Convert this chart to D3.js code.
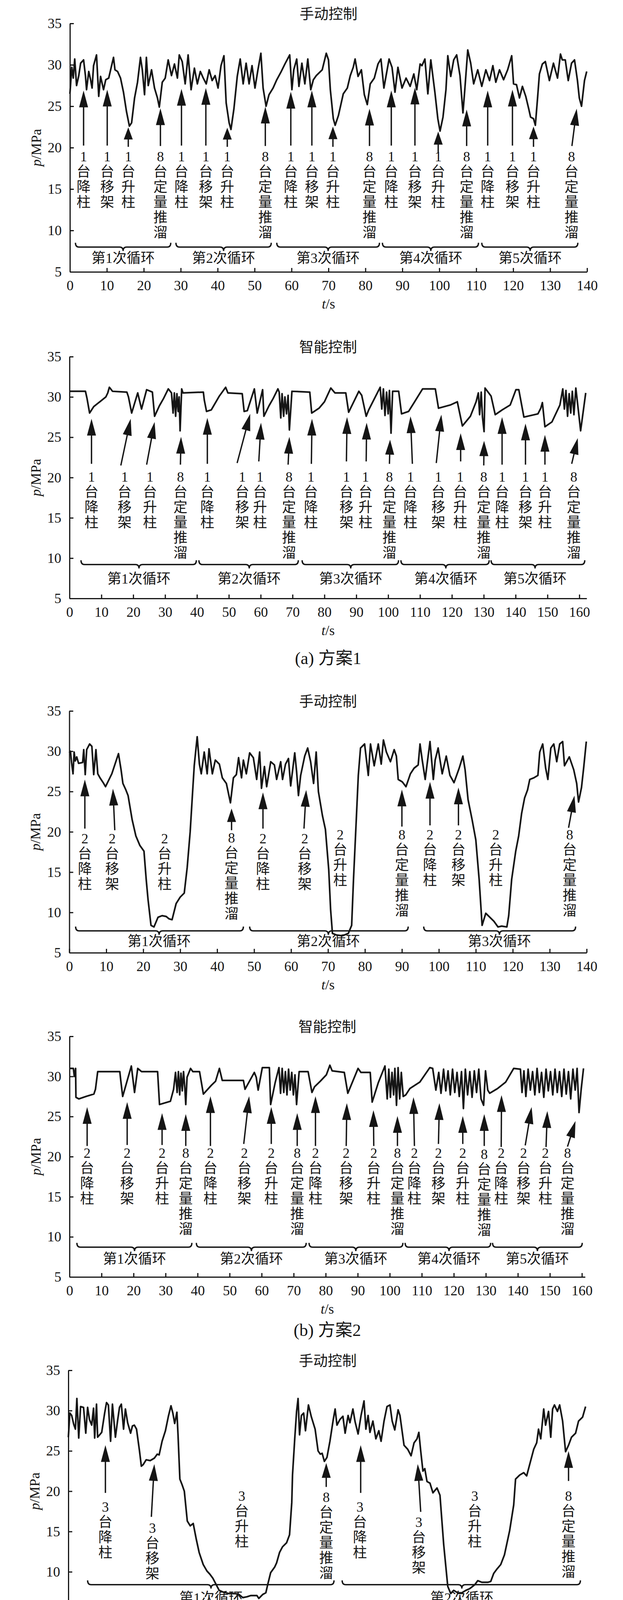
<!DOCTYPE html>
<html>
<head>
<meta charset="utf-8">
<script src="https://cdn.jsdelivr.net/npm/d3@7"></script>
<style>
body { margin: 0; background: #fff; }
text { font-family: 'Liberation Serif', 'Times New Roman', 'Noto Sans CJK SC', serif; fill: #151515; }
</style>
</head>
<body>
<div id="main"></div>
<script>
// ---------- data: [t (s), p (MPa)] ----------
const scheme1Manual = [[0,26.5],[0.5,29.7],[0.9,28.4],[1.3,30.7],[1.8,27.5],[2.4,28.7],[2.9,30.2],[3.7,30.6],[4.2,28.7],[4.5,27.0],[5.1,29.2],[5.6,28.2],[6.0,27.2],[6.4,29.9],[7.2,31.2],[7.8,26.2],[8.3,28.6],[9.1,27.0],[9.7,28.2],[10.5,28.4],[11.8,30.9],[12.2,29.4],[12.9,29.2],[13.7,28.4],[14.5,26.7],[15.3,24.4],[16.1,22.6],[16.7,23.0],[17.5,26.0],[18.3,27.9],[19.1,30.9],[19.6,29.4],[20.2,26.4],[20.7,30.9],[21.2,27.5],[22.1,29.4],[22.9,27.2],[23.7,26.0],[24.2,24.9],[25.0,27.9],[25.8,28.4],[26.6,30.6],[27.5,28.7],[28.3,30.1],[29.1,28.4],[29.6,31.2],[30.4,30.4],[31.2,27.7],[32.0,31.2],[32.8,27.0],[33.7,29.6],[34.5,27.7],[35.3,29.2],[36.1,28.4],[36.9,27.7],[37.7,29.4],[38.5,28.1],[39.3,28.7],[40.1,27.2],[40.9,29.9],[41.7,31.1],[42.3,25.4],[43.1,23.0],[43.6,22.2],[44.4,24.7],[45.3,28.6],[46.1,30.7],[46.9,27.7],[47.7,30.2],[48.5,27.7],[49.3,29.9],[50.1,27.2],[50.9,29.4],[51.7,31.4],[52.3,27.2],[53.1,25.0],[53.9,26.4],[55.0,27.2],[56.0,28.2],[57.1,29.1],[58.2,30.1],[59.5,31.2],[60.1,27.0],[60.6,29.4],[61.4,30.7],[62.0,27.4],[62.8,30.2],[63.6,27.7],[64.4,30.7],[65.2,27.0],[65.9,28.2],[66.7,28.7],[68.3,29.4],[69.4,31.4],[70.0,30.6],[70.5,27.0],[71.3,23.5],[71.8,22.7],[72.7,23.9],[74.0,26.5],[75.1,27.2],[75.9,28.7],[76.7,29.7],[77.2,30.7],[78.0,28.6],[78.9,29.4],[79.7,26.4],[80.5,25.2],[81.3,27.7],[82.4,28.4],[83.4,30.1],[84.2,30.7],[85.0,27.2],[86.4,30.7],[87.2,29.7],[88.0,26.7],[88.8,29.7],[89.9,27.2],[91.0,28.4],[92.1,27.4],[93.1,28.9],[93.9,27.0],[94.8,30.1],[95.3,29.9],[96.1,30.7],[96.9,26.5],[97.7,30.6],[98.8,26.7],[99.6,23.5],[100.2,22.0],[101.0,23.7],[101.8,27.0],[102.3,31.1],[103.1,28.6],[103.9,30.6],[104.7,31.2],[105.6,28.7],[106.4,24.2],[106.9,27.0],[107.7,31.8],[108.5,30.2],[109.3,27.7],[110.4,29.4],[111.5,27.4],[112.6,29.4],[113.6,28.1],[114.5,29.9],[115.3,27.9],[116.3,29.4],[117.4,28.2],[118.5,29.4],[119.6,31.1],[120.1,27.7],[120.9,27.6],[121.7,26.0],[122.5,27.4],[123.4,26.2],[124.2,24.7],[124.7,23.7],[125.5,23.5],[126.0,22.7],[126.6,26.0],[127.1,28.9],[127.9,30.1],[128.7,30.4],[129.8,28.1],[130.9,30.2],[132.0,28.4],[132.8,31.3],[133.3,30.6],[134.1,30.6],[134.9,28.1],[135.8,30.2],[136.6,30.6],[137.4,28.1],[137.9,26.0],[138.5,25.0],[139.3,28.1],[139.9,29.2]];

const scheme1Smart = [[0,30.7],[5.0,30.7],[5.5,29.8],[6.3,28.0],[7.6,28.8],[9.5,29.4],[11.4,30.0],[12.0,30.5],[12.5,31.2],[13.5,30.7],[18.0,30.6],[18.5,30.0],[19.5,28.0],[21.4,30.5],[22.6,28.5],[24.2,30.9],[26.0,30.6],[26.7,27.6],[28.2,28.9],[29.5,29.8],[31.0,31.0],[32.0,30.5],[32.5,28.0],[32.9,30.5],[33.3,27.6],[33.7,30.4],[34.1,28.2],[34.4,30.0],[34.7,25.8],[35.2,31.0],[35.6,30.5],[42.0,30.6],[42.3,29.6],[43.0,28.2],[44.5,28.4],[47.0,30.1],[49.0,31.2],[49.7,30.5],[54.2,30.4],[54.8,28.2],[55.8,28.3],[58.0,31.0],[58.9,28.0],[60.6,30.9],[61.0,27.6],[62.6,28.9],[63.9,29.8],[65.4,31.0],[65.8,30.6],[66.3,27.4],[66.7,30.4],[67.2,27.6],[67.6,30.0],[68.1,27.9],[68.6,30.2],[69.0,25.9],[69.8,30.7],[75.4,30.6],[76.0,28.0],[78.3,28.6],[80.0,29.4],[82.0,31.1],[83.3,30.5],[86.7,30.5],[87.6,28.1],[90.8,30.7],[91.7,30.2],[93.1,27.6],[93.9,28.4],[97.5,31.2],[98.0,28.5],[98.5,31.0],[99.0,27.7],[99.5,30.6],[100.0,27.9],[100.4,30.8],[100.9,25.5],[101.4,30.7],[103.3,30.7],[104.2,27.9],[106.4,28.2],[108.3,29.4],[110.8,31.0],[114.8,31.0],[115.8,28.6],[119.5,29.0],[121.7,29.4],[123.3,26.4],[125.8,27.6],[127.6,29.4],[128.3,30.5],[128.7,27.8],[129.2,30.6],[129.6,27.5],[130.1,25.7],[130.4,31.1],[132.3,30.1],[133.6,27.8],[135.8,28.4],[138.3,29.0],[140.1,30.9],[141.0,30.9],[142.6,27.5],[147.0,27.9],[147.9,28.6],[148.4,29.3],[149.2,26.3],[151.4,26.9],[153.9,29.0],[154.8,31.0],[155.3,28.5],[155.8,30.8],[156.3,27.6],[156.8,30.4],[157.3,28.0],[157.8,30.7],[158.3,27.8],[158.9,31.1],[159.5,29.0],[160.4,25.8],[162.0,30.5]];

const scheme2Manual = [[0,29.8],[0.3,30.0],[0.6,28.6],[1.0,27.2],[1.3,29.9],[1.6,28.8],[2.0,29.3],[2.5,28.5],[3.6,28.6],[3.9,30.2],[4.3,27.1],[4.7,30.2],[5.5,30.9],[6.1,30.6],[6.6,27.1],[7.2,30.2],[7.7,27.2],[8.3,26.7],[9.3,26.0],[9.8,25.6],[11.5,27.2],[13.3,29.7],[14.0,27.7],[14.5,26.0],[15.3,25.2],[15.9,24.5],[17.0,21.5],[18.0,19.5],[19.1,18.3],[20.2,17.6],[20.8,14.1],[21.3,11.6],[22.1,8.4],[22.9,8.2],[24.0,9.4],[25.1,9.6],[26.2,9.5],[27.0,9.2],[27.8,9.1],[28.9,11.1],[30.0,11.9],[31.1,12.4],[31.9,15.6],[32.7,20.0],[33.3,24.5],[33.8,28.2],[34.6,31.8],[35.2,28.4],[35.7,27.2],[36.5,29.9],[37.3,27.2],[37.8,30.3],[38.7,27.2],[39.5,28.9],[40.6,28.4],[41.4,26.7],[42.5,26.0],[43.6,23.6],[44.4,26.7],[45.2,27.1],[45.8,29.2],[46.6,26.7],[47.1,28.9],[47.9,27.2],[48.8,29.8],[49.8,29.2],[50.7,26.5],[51.5,29.9],[52.0,25.4],[52.8,28.1],[53.4,25.6],[54.5,28.7],[55.5,28.3],[56.1,26.5],[57.2,28.7],[57.7,26.5],[58.5,28.4],[59.3,29.1],[59.9,25.7],[61.0,29.8],[61.5,27.5],[62.0,24.5],[62.6,27.0],[63.7,29.4],[64.5,30.4],[65.3,28.7],[66.1,26.0],[66.8,29.9],[67.4,25.0],[68.5,22.0],[69.3,20.3],[70.2,15.3],[70.7,10.4],[71.2,7.4],[72.3,7.2],[73.9,7.1],[75.5,7.4],[76.4,8.4],[76.9,14.1],[77.7,22.0],[78.2,27.0],[78.8,30.4],[79.9,30.9],[80.9,27.0],[81.5,30.9],[82.5,28.2],[83.6,30.9],[84.4,28.4],[85.0,31.4],[85.8,29.9],[86.9,28.7],[87.9,30.2],[88.5,29.4],[89.0,26.5],[90.1,26.2],[91.1,25.6],[92.3,27.2],[93.3,27.9],[94.4,28.3],[94.9,30.9],[95.5,28.9],[96.3,26.5],[97.1,29.4],[97.6,31.2],[98.5,26.5],[99.0,28.9],[99.8,30.4],[100.9,27.2],[102.0,29.4],[103.0,27.0],[104.1,26.1],[105.5,27.9],[106.5,29.4],[107.1,27.7],[107.9,24.0],[109.0,21.5],[110.0,19.0],[110.9,14.1],[111.7,8.4],[112.7,9.9],[113.8,9.4],[114.9,8.9],[116.0,8.2],[117.0,8.3],[118.4,8.2],[118.9,9.6],[119.7,14.1],[120.8,17.6],[121.6,19.5],[122.4,22.3],[123.2,24.2],[124.0,25.2],[124.6,26.5],[125.7,26.7],[126.8,27.0],[127.3,29.9],[128.1,30.9],[128.9,27.9],[129.5,26.5],[130.3,30.4],[131.1,30.9],[131.9,28.7],[132.7,30.9],[133.5,31.2],[134.0,28.2],[135.3,29.3],[136.5,27.7],[137.3,26.0],[137.8,23.7],[138.6,25.5],[139.2,28.0],[139.9,31.2]];

const scheme2Smart = [[0,31.0],[1.2,31.0],[1.5,30.0],[1.9,31.0],[2.0,27.4],[2.9,27.2],[5.1,27.5],[7.6,27.8],[8.1,28.4],[8.8,30.6],[15.7,30.6],[16.0,29.5],[16.6,27.5],[19.3,31.3],[20.3,28.0],[21.3,31.0],[22.5,30.6],[27.5,30.6],[28.1,26.5],[31.5,26.9],[32.5,28.4],[33.1,30.5],[33.6,28.0],[34.0,30.6],[34.4,27.7],[34.8,30.4],[35.2,28.2],[35.6,30.6],[36.0,28.6],[36.3,26.5],[36.7,29.9],[37.8,31.0],[38.5,30.6],[40.6,30.6],[41.8,27.8],[44.3,28.9],[45.6,29.4],[46.8,31.0],[47.7,29.5],[54.3,29.5],[54.8,28.4],[57.7,30.5],[58.3,29.9],[58.9,28.3],[60.2,31.1],[62.4,31.1],[62.8,26.5],[64.2,29.2],[65.4,31.1],[65.9,27.9],[66.4,31.0],[66.9,28.0],[67.4,30.6],[67.9,27.7],[68.4,30.9],[68.9,28.3],[69.4,30.5],[69.9,27.7],[70.4,30.2],[70.9,26.5],[71.7,30.6],[74.5,30.6],[75.7,28.0],[76.5,28.7],[78.3,29.4],[80.2,30.2],[81.3,31.4],[82.0,30.7],[85.8,30.5],[86.9,27.9],[90.1,31.0],[91.0,30.5],[93.9,30.5],[94.5,26.8],[96.4,29.2],[98.5,31.3],[99.2,27.2],[99.7,30.9],[100.2,27.4],[100.7,30.5],[101.2,27.7],[101.6,31.0],[102.1,26.4],[102.6,31.1],[103.1,27.2],[103.6,30.5],[104.2,27.5],[105.0,27.7],[106.3,28.5],[109.4,29.3],[112.5,31.1],[113.4,31.0],[114.4,28.3],[115.3,30.5],[116.0,27.9],[116.8,30.9],[117.5,28.2],[118.2,30.7],[118.9,27.7],[119.6,30.9],[120.3,28.0],[121.0,30.5],[121.7,27.5],[122.4,30.6],[123.0,26.0],[123.6,30.9],[124.3,27.7],[125.0,30.6],[125.7,27.4],[126.4,30.7],[127.1,28.0],[127.8,30.9],[128.5,27.2],[129.3,26.4],[129.9,30.7],[130.6,28.3],[131.2,27.9],[133.7,28.5],[136.2,29.3],[138.7,31.0],[140.8,30.9],[141.3,28.0],[141.9,30.7],[142.5,27.5],[143.2,30.9],[143.9,28.3],[144.6,30.6],[145.3,27.7],[146.0,31.0],[146.7,28.0],[147.4,30.5],[148.1,27.4],[148.8,30.9],[149.5,28.2],[150.2,30.6],[150.9,27.7],[151.6,30.9],[152.3,28.0],[153.0,30.6],[153.7,27.5],[154.4,30.9],[155.1,27.8],[155.8,30.6],[156.5,27.2],[157.2,30.9],[157.9,28.3],[158.5,31.0],[159.1,25.5],[159.8,28.5],[160.5,31.0]];

const scheme3Manual = [[0,26.7],[0.4,29.7],[0.9,29.4],[1.45,28.3],[1.9,27.7],[2.3,31.5],[2.8,26.6],[3.3,30.5],[4.1,30.4],[4.7,27.2],[5.2,30.4],[5.7,28.9],[6.3,28.2],[6.8,30.3],[7.1,26.6],[7.6,30.8],[7.9,26.7],[9.0,27.3],[9.8,29.7],[10.3,31.0],[10.8,30.7],[11.4,26.2],[11.9,30.8],[12.7,26.7],[13.3,28.8],[13.8,30.4],[14.3,30.8],[14.9,27.7],[15.4,30.2],[16.0,28.5],[16.8,27.2],[17.3,28.1],[17.8,28.2],[18.4,27.7],[19.2,25.0],[19.7,23.1],[20.2,23.3],[21.0,23.9],[22.1,23.8],[23.2,24.1],[24.0,24.6],[24.5,24.5],[25.3,26.2],[26.2,27.5],[27.0,29.3],[27.7,30.6],[28.2,29.7],[28.7,28.4],[29.3,29.8],[29.6,27.0],[30.1,21.5],[30.7,20.8],[31.3,20.0],[32.1,16.3],[32.9,15.7],[33.7,16.0],[34.5,14.1],[35.3,12.4],[36.4,10.9],[37.4,10.1],[38.2,9.7],[39.0,9.2],[39.8,8.5],[40.7,7.7],[41.7,7.5],[43.3,7.3],[45.0,7.3],[46.0,7.2],[47.1,6.8],[48.2,6.9],[49.2,7.05],[50.9,7.05],[51.4,6.7],[52.5,7.2],[53.3,7.4],[53.8,8.4],[54.6,9.9],[55.7,10.6],[56.2,11.1],[57.0,12.4],[57.8,13.1],[58.9,13.6],[59.7,14.6],[60.3,18.6],[60.5,22.0],[61.1,26.5],[61.6,29.9],[62.0,31.5],[62.4,27.0],[62.9,29.4],[63.5,29.7],[64.0,27.5],[64.8,30.7],[65.6,29.2],[66.6,27.7],[67.4,25.0],[68.0,24.6],[68.5,24.7],[69.1,23.7],[69.8,24.2],[70.6,26.2],[71.5,28.9],[72.0,30.2],[72.5,28.2],[73.3,28.9],[74.1,29.3],[74.7,27.2],[75.5,29.4],[76.0,28.5],[76.8,30.2],[77.4,28.6],[78.2,27.1],[79.0,29.4],[79.8,31.2],[80.3,27.7],[80.9,29.4],[81.4,27.3],[82.2,28.7],[83.0,26.5],[83.8,27.5],[84.4,26.2],[85.2,28.7],[86.0,30.5],[86.8,30.7],[87.4,28.7],[88.1,27.6],[89.0,30.1],[89.5,29.4],[90.6,25.7],[91.6,25.2],[92.5,24.4],[93.3,26.0],[94.1,26.5],[94.6,27.3],[95.1,25.0],[95.7,22.5],[96.2,22.8],[96.8,21.2],[97.6,21.0],[98.4,19.8],[99.5,20.4],[100.3,19.5],[101.3,13.4],[102.4,8.2],[103.2,7.3],[104.0,7.7],[105.1,7.4],[106.2,7.4],[107.3,7.7],[108.3,7.9],[109.7,8.4],[110.5,8.9],[111.6,8.7],[113.2,8.7],[114.0,8.8],[114.8,9.8],[115.6,10.3],[116.7,10.9],[117.7,12.1],[119.1,15.1],[120.2,18.3],[120.7,21.5],[121.8,22.0],[122.9,22.3],[123.7,21.9],[124.5,23.3],[125.6,25.2],[126.4,26.0],[126.9,27.7],[127.5,26.5],[128.3,30.2],[128.8,28.2],[129.6,29.9],[130.2,26.7],[130.7,30.2],[131.2,30.7],[132.0,29.9],[132.6,30.7],[133.4,28.7],[134.2,24.9],[135.0,25.7],[135.8,26.7],[136.9,27.2],[137.7,28.7],[138.8,29.2],[139.6,30.5]];

const scheme3Smart = [[0,30.2],[0.7,28.4],[1.2,27.6],[3.3,27.4],[5.0,27.0],[6.8,26.8],[7.7,27.3],[8.5,30.8],[9.1,30.5],[9.7,28.4],[10.9,30.5],[12.0,30.8],[12.9,28.4],[13.8,29.7],[14.4,31.3],[14.7,24.9],[16.1,24.8],[17.1,26.5],[18.5,27.2],[20.2,28.1],[21.4,29.2],[22.2,31.2],[22.9,27.8],[23.7,31.0],[24.3,27.8],[25.5,31.0],[26.4,28.1],[27.8,28.4],[29.6,29.0],[31.3,29.7],[33.1,31.2],[36.0,31.0],[36.9,28.4],[38.3,28.6],[40.1,29.7],[42.4,31.1],[45.9,30.9],[46.5,27.7],[48.9,28.9],[50.6,30.9],[51.2,27.8],[51.8,31.0],[52.4,27.3],[53.0,31.1],[53.6,27.7],[54.2,30.9],[54.8,27.2],[55.4,31.0],[55.9,28.1],[56.8,27.7],[59.4,29.0],[62.9,31.2],[65.8,31.1],[67.3,28.2],[69.3,28.8],[72.3,31.3],[75.8,31.2],[76.7,27.0],[78.7,28.4],[80.4,30.9],[81.6,30.5],[82.2,28.0],[82.8,30.8],[83.4,28.4],[83.9,31.3],[84.5,27.4],[85.7,31.2],[86.3,27.3],[87.5,31.0],[89.8,31.0],[90.7,27.7],[93.3,27.2],[96.2,26.6],[98.0,28.4],[99.7,31.2],[100.9,31.0],[102.4,28.1],[105.0,28.5],[107.9,28.9],[109.1,30.5],[109.9,27.0],[112.0,27.7],[114.3,29.2],[117.3,31.2],[117.9,28.0],[118.5,30.8],[119.1,27.6],[119.7,31.0],[120.3,28.4],[121.4,30.9],[123.1,30.7],[123.9,28.0],[126.6,27.6],[128.4,27.3],[131.9,31.2],[134.8,31.1],[136.0,28.4],[138.9,28.6],[141.8,29.2],[143.0,31.2],[143.6,27.0],[145.9,27.8],[148.3,28.4],[150.8,31.0],[151.7,30.5],[152.3,26.6],[152.9,30.8],[153.5,27.7],[154.1,30.9],[154.7,26.8],[155.3,30.5],[156.0,28.3],[156.2,31.1]];

// ---------- annotations: labels [t, text, p of first line], arrows [tTail, pTail, tTip, pTip], braces [tStart, tEnd, tMid, label] ----------
const scheme1ManualLabels = [[3.7,'1台降柱',18.95],[10.1,'1台移架',18.95],[15.8,'1台升柱',18.95],[24.5,'8台定量推溜',18.95],[30.2,'1台降柱',18.95],[36.8,'1台移架',18.95],[42.6,'1台升柱',18.95],[52.9,'8台定量推溜',18.95],[59.8,'1台降柱',18.95],[65.5,'1台移架',18.95],[71.2,'1台升柱',18.95],[81.1,'8台定量推溜',18.95],[87.0,'1台降柱',18.95],[93.4,'1台移架',18.95],[99.7,'1台升柱',18.95],[107.4,'8台定量推溜',18.95],[113.1,'1台降柱',18.95],[119.8,'1台移架',18.95],[125.5,'1台升柱',18.95],[135.8,'8台定量推溜',18.95]];
const scheme1ManualArrows = [[3.7,20.25,3.7,26.9],[10.1,20.25,10.1,27.0],[15.8,20.1,15.8,22.45],[24.5,20.2,24.5,24.75],[30.2,20.25,30.2,27.1],[36.8,20.25,36.8,27.2],[42.6,20.1,42.6,22.4],[52.9,20.2,52.9,24.95],[59.8,20.25,59.8,26.75],[65.5,20.25,65.5,26.9],[71.2,20.1,71.2,22.55],[81.1,20.2,81.1,24.7],[87.0,20.25,87.0,26.9],[93.4,20.25,93.4,27.25],[99.7,19.4,99.7,21.95],[107.4,20.2,107.4,24.6],[113.1,20.25,113.1,26.9],[119.8,20.25,119.8,27.0],[125.5,20.1,125.5,22.55],[135.9,20.2,137.2,24.7]];
const scheme1ManualBraces = [[1.5,27.3,14.4,'第1次循环'],[28.7,54.5,41.6,'第2次循环'],[56.0,83.8,69.9,'第3次循环'],[84.6,110.6,97.7,'第4次循环'],[111.5,137.5,124.6,'第5次循环']];

const scheme1SmartLabels = [[6.9,'1台降柱',20.1],[17.3,'1台移架',20.1],[25.25,'1台升柱',20.1],[34.8,'8台定量推溜',20.1],[43.25,'1台降柱',20.1],[54.2,'1台移架',20.1],[59.8,'1台升柱',20.1],[68.9,'8台定量推溜',20.1],[75.75,'1台降柱',20.1],[86.9,'1台移架',20.1],[92.9,'1台升柱',20.1],[100.4,'8台定量推溜',20.1],[107.0,'1台降柱',20.1],[115.75,'1台移架',20.1],[122.6,'1台升柱',20.1],[130.0,'8台定量推溜',20.1],[135.75,'1台降柱',20.1],[143.1,'1台移架',20.1],[149.2,'1台升柱',20.1],[158.25,'8台定量推溜',20.1]];
const scheme1SmartArrows = [[6.9,21.7,6.9,27.3],[16.1,21.5,19.2,27.3],[24.2,21.6,26.7,26.9],[34.8,21.6,35.0,25.05],[43.25,21.7,43.25,27.4],[52.6,21.8,56.7,27.9],[59.4,22.0,60.1,26.8],[68.6,21.6,69.0,25.05],[75.9,21.7,76.1,27.3],[86.9,22.0,87.1,27.5],[93.1,22.0,93.25,26.8],[100.4,21.7,100.6,24.7],[107.6,21.7,107.0,27.6],[115.1,21.8,116.7,27.8],[122.75,22.0,122.75,25.5],[130.0,21.5,130.1,24.55],[135.75,21.6,135.75,27.5],[143.1,21.6,143.1,26.7],[149.2,21.6,149.2,25.3],[157.6,21.7,159.5,24.9]];
const scheme1SmartBraces = [[3.6,39.8,21.8,'第1次循环'],[40.6,71.8,56.4,'第2次循环'],[73.0,103.25,88.25,'第3次循环'],[104.0,131.7,118.1,'第4次循环'],[132.3,161.7,146.1,'第5次循环']];

const scheme2ManualLabels = [[4.2,'2台降柱',19.2],[11.6,'2台移架',19.2],[25.8,'2台升柱',19.2],[43.9,'8台定量推溜',19.3],[52.4,'2台降柱',19.2],[63.7,'2台移架',19.2],[73.3,'2台升柱',19.65],[90.0,'8台定量推溜',19.65],[97.6,'2台降柱',19.65],[105.3,'2台移架',19.65],[115.4,'2台升柱',19.65],[135.4,'8台定量推溜',19.65]];
const scheme2ManualArrows = [[4.2,20.4,4.2,26.5],[12.3,20.2,11.8,25.35],[43.9,20.2,43.9,22.9],[52.4,20.4,52.4,24.9],[63.5,20.4,64.1,25.2],[90.0,20.65,90.0,25.25],[97.6,20.8,97.6,26.2],[105.3,20.8,105.3,25.5],[135.1,20.5,136.7,24.5]];
const scheme2ManualBraces = [[1.7,47.1,24.3,'第1次循环'],[48.8,91.7,70.1,'第2次循环'],[95.9,137.0,116.4,'第3次循环']];

const scheme2SmartLabels = [[5.5,'2台降柱',20.45],[18.0,'2台移架',20.45],[28.9,'2台升柱',20.45],[36.3,'8台定量推溜',20.45],[44.0,'2台降柱',20.45],[54.6,'2台移架',20.45],[63.0,'2台升柱',20.45],[71.1,'8台定量推溜',20.45],[76.8,'2台降柱',20.45],[86.4,'2台移架',20.45],[95.0,'2台升柱',20.45],[102.4,'8台定量推溜',20.45],[107.7,'2台降柱',20.45],[115.2,'2台移架',20.45],[122.8,'2台升柱',20.45],[129.5,'8台定量推溜',20.3],[134.8,'2台降柱',20.45],[141.8,'2台移架',20.45],[148.6,'2台升柱',20.45],[155.5,'8台定量推溜',20.45]];
const scheme2SmartArrows = [[5.5,21.33,5.5,26.18],[18.0,21.45,18.0,26.8],[28.9,21.45,28.9,25.43],[36.3,21.33,36.3,25.31],[44.0,21.33,44.0,27.54],[54.4,21.58,56.1,27.54],[63.0,21.58,63.0,26.18],[71.1,21.33,71.1,25.43],[76.8,21.33,76.8,27.54],[86.4,21.33,86.6,26.67],[95.0,21.33,94.9,25.8],[102.4,21.33,102.4,25.06],[107.7,21.33,107.4,27.42],[115.2,21.58,115.5,26.67],[122.8,21.58,122.8,25.06],[129.5,21.33,129.5,25.31],[134.8,21.2,134.9,27.67],[142.3,21.4,144.3,26.18],[148.8,21.2,149.2,25.68],[155.5,21.25,158.0,24.44]];
const scheme2SmartBraces = [[2.3,38.2,20.3,'第1次循环'],[39.6,73.9,56.8,'第2次循环'],[74.8,104.1,89.4,'第3次循环'],[104.8,131.5,118.5,'第4次循环'],[132.1,160.1,146.1,'第5次循环']];

const scheme3ManualLabels = [[10.0,'3台降柱',18.06],[22.7,'3台移架',15.46],[46.8,'3台升柱',19.42],[69.6,'8台定量推溜',19.29],[78.7,'3台降柱',18.06],[94.6,'3台移架',16.2],[109.7,'3台升柱',19.42],[135.0,'8台定量推溜',19.42]];
const scheme3ManualArrows = [[10.0,19.79,10.0,25.72],[22.4,16.82,23.2,23.37],[69.6,20.53,69.6,23.5],[78.9,19.79,78.9,25.72],[95.1,17.44,94.3,23.37],[135.0,21.27,135.0,24.98]];
const scheme3ManualBraces = [[5.2,71.7,38.5,'第1次循环'],[73.9,138.2,106.2,'第2次循环']];

const scheme3SmartArrows = [[5.03,22.0,4.21,26.82],[10.87,21.9,10.87,28.24],[16.37,21.83,16.37,24.77],[24.09,21.83,24.09,26.72],[30.75,21.83,29.93,29.04],[36.95,21.78,36.95,28.37],[46.77,21.7,46.77,27.71],[55.65,21.83,54.72,27.17],[61.97,21.83,59.75,28.37],[68.51,21.83,68.51,28.78],[79.27,22.1,79.86,29.44],[87.22,21.83,86.64,27.31],[94.24,21.88,93.88,26.9],[104.17,22.1,104.17,28.37],[112.24,21.75,112.0,27.84],[120.54,21.56,120.19,28.24],[128.14,21.7,127.21,27.44],[136.56,21.7,136.56,28.24],[144.98,21.56,144.98,27.17],[151.17,22.1,154.68,26.37]];
const scheme3SmartBraces = [[3.3,27.2,15.2,''],[28.8,59.2,44.0,''],[60.6,90.7,75.8,''],[92.1,124.9,108.5,''],[126.0,154.9,140.3,'']];

const pressureTicks = [5, 10, 15, 20, 25, 30, 35];
const timeTicks140 = d3.range(0, 141, 10);
const timeTicks160 = d3.range(0, 161, 10);
const timeTicks150 = d3.range(0, 151, 10);

// ---------- panel layout ----------
const panels = [
    {title: '手动控制', series: scheme1Manual, labels: scheme1ManualLabels, arrows: scheme1ManualArrows, braces: scheme1ManualBraces,
     tMax: 140, ticks: timeTicks140, xr: [179, 1503], yr: [696, 60], braceP: 8.0, braceTextP: 6.68, unit: 'MPa'},
    {title: '智能控制', series: scheme1Smart, labels: scheme1SmartLabels, arrows: scheme1SmartArrows, braces: scheme1SmartBraces,
     tMax: 162.3, ticks: timeTicks160, xr: [178, 1502], yr: [1532, 913], braceP: 9.2, braceTextP: 7.47, unit: 'MPa',
     caption: '(a) 方案1', captionY: 1684},
    {title: '手动控制', series: scheme2Manual, labels: scheme2ManualLabels, arrows: scheme2ManualArrows, braces: scheme2ManualBraces,
     tMax: 140, ticks: timeTicks140, xr: [177.5, 1502], yr: [2439, 1820], braceP: 7.72, braceTextP: 6.43, unit: 'MPa'},
    {title: '智能控制', series: scheme2Smart, labels: scheme2SmartLabels, arrows: scheme2SmartArrows, braces: scheme2SmartBraces,
     tMax: 161, ticks: timeTicks160, xr: [178, 1498], yr: [3269, 2653], braceP: 8.71, braceTextP: 7.27, unit: 'MPa',
     caption: '(b) 方案2', captionY: 3404},
    {title: '手动控制', series: scheme3Manual, labels: scheme3ManualLabels, arrows: scheme3ManualArrows, braces: scheme3ManualBraces,
     tMax: 140, ticks: timeTicks140, xr: [175, 1503], yr: [4127, 3508], braceP: 8.41, braceTextP: 6.8, unit: 'MPa'},
    {title: '智能控制', series: scheme3Smart, labels: [], arrows: scheme3SmartArrows, braces: scheme3SmartBraces,
     tMax: 156.2, ticks: timeTicks150, xr: [175, 1534], yr: [4917, 4344], braceP: 9.4, braceTextP: 0, unit: 'Mpa',
     caption: '(c) 方案3', captionY: 5064}
];

const ink = '#151515';
let svg = d3.select('#main').append('svg').attr('width', 1595).attr('height', 5107);
svg.append('rect').attr('width', 1595).attr('height', 5107).attr('fill', '#fff');

panels.forEach(cfg => drawPanel(cfg));

function drawPanel(cfg) {
    let x = d3.scaleLinear().domain([0, cfg.tMax]).range(cfg.xr);
    let y = d3.scaleLinear().domain([5, 35]).range(cfg.yr);
    let g = svg.append('g').classed('panel', true);

    // axes, ticks pointing inward
    let yAxis = d3.axisLeft(y).tickValues(pressureTicks).tickSize(-10).tickSizeOuter(0).tickPadding(21);
    let xAxis = d3.axisBottom(x).tickValues(cfg.ticks).tickSize(-10).tickSizeOuter(0).tickPadding(21);
    let ya = g.append('g').attr('transform', `translate(${cfg.xr[0]},0)`).call(yAxis);
    let xa = g.append('g').attr('transform', `translate(0,${cfg.yr[0]})`).call(xAxis);
    [ya, xa].forEach(a => {
        a.attr('font-family', null).attr('font-size', null);
        a.selectAll('path, line').attr('stroke', ink).attr('stroke-width', 3);
        a.selectAll('text').attr('fill', ink).style('font-size', '36px');
    });

    let xMid = (cfg.xr[0] + cfg.xr[1]) / 2;
    let yMid = (cfg.yr[0] + cfg.yr[1]) / 2;

    g.append('text').attr('x', xMid).attr('y', cfg.yr[1] - 24).attr('dy', '0.36em')
        .attr('text-anchor', 'middle').style('font-size', '37px').text(cfg.title);

    let yl = g.append('text').attr('transform', `translate(${cfg.xr[0] - 87},${yMid}) rotate(-90)`)
        .attr('dy', '0.35em').attr('text-anchor', 'middle').style('font-size', '36px');
    yl.append('tspan').style('font-style', 'italic').text('p');
    yl.append('tspan').text('/' + cfg.unit);

    let xl = g.append('text').attr('x', xMid).attr('y', cfg.yr[0] + 81).attr('dy', '0.35em')
        .attr('text-anchor', 'middle').style('font-size', '36px');
    xl.append('tspan').style('font-style', 'italic').text('t');
    xl.append('tspan').text('/s');

    if (cfg.caption) {
        g.append('text').attr('x', xMid).attr('y', cfg.captionY).attr('dy', '0.36em')
            .attr('text-anchor', 'middle').style('font-size', '44px').text(cfg.caption);
    }

    // pressure curve
    let line = d3.line().x(d => x(d[0])).y(d => y(d[1]));
    g.append('path').datum(cfg.series).attr('d', line)
        .attr('fill', 'none').attr('stroke', ink).attr('stroke-width', 4.2).attr('stroke-linejoin', 'round');

    // arrows
    cfg.arrows.forEach(a => drawArrow(g, x(a[0]), y(a[1]), x(a[2]), y(a[3])));

    // vertical labels
    cfg.labels.forEach(l => {
        let chars = Array.from(l[1]);
        chars.forEach((c, i) => {
            g.append('text').attr('x', x(l[0])).attr('y', y(l[2]) + i * 39).attr('dy', '0.35em')
                .attr('text-anchor', 'middle').style('font-size', '36px').text(c);
        });
    });

    // cycle braces
    cfg.braces.forEach(b => {
        drawBrace(g, x(b[0]), x(b[1]), x(b[2]), y(cfg.braceP));
        if (b[3]) {
            g.append('text').attr('x', x(b[2])).attr('y', y(cfg.braceTextP)).attr('dy', '0.36em')
                .attr('text-anchor', 'middle').style('font-size', '36px').text(b[3]);
        }
    });
}

function drawArrow(g, x0, y0, x1, y1) {
    let dx = x1 - x0, dy = y1 - y0;
    let len = Math.hypot(dx, dy);
    let ux = dx / len, uy = dy / len;
    let L = Math.min(43, len * 0.62), W = 11.5;
    let bx = x1 - ux * L, by = y1 - uy * L;
    g.append('line').attr('x1', x0).attr('y1', y0).attr('x2', bx + ux * 2).attr('y2', by + uy * 2)
        .attr('stroke', ink).attr('stroke-width', 3.5);
    g.append('path')
        .attr('d', `M${x1},${y1}L${bx - uy * W},${by + ux * W}L${bx + uy * W},${by - ux * W}Z`)
        .attr('fill', ink);
}

function drawBrace(g, x1, x2, xm, yy) {
    let h = 11, r = 9, tip = 10;
    let d = `M${x1},${yy - h} Q${x1},${yy} ${x1 + r},${yy} L${xm - r},${yy} Q${xm},${yy} ${xm},${yy + tip}` +
        ` Q${xm},${yy} ${xm + r},${yy} L${x2 - r},${yy} Q${x2},${yy} ${x2},${yy - h}`;
    g.append('path').attr('d', d).attr('fill', 'none').attr('stroke', ink).attr('stroke-width', 3.5);
}
</script>
</body>
</html>
